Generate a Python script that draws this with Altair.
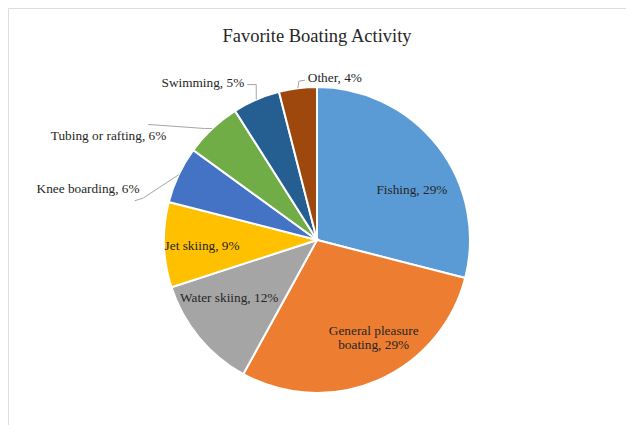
import math
import textwrap
import altair as alt
import pandas as pd

# ---------------- data ----------------
title_text = "Favorite Boating Activity"
categories = ["Fishing", "General pleasure boating", "Water skiing", "Jet skiing",
              "Knee boarding", "Tubing or rafting", "Swimming", "Other"]
values = [29, 29, 12, 9, 6, 6, 5, 4]
colors = ["#5B9BD5", "#ED7D31", "#A5A5A5", "#FFC000",
          "#4472C4", "#70AD47", "#255E91", "#9E480E"]

labels = [f"{c}, {v}%" for c, v in zip(categories, values)]
labels[1] = "\n".join(textwrap.wrap(labels[1], 16))
total = sum(values)

df = pd.DataFrame({
    "category": categories,
    "value": values,
    "order": list(range(len(categories))),
    "label": labels,
})

# ---------------- layout ----------------
W, H = 618, 417
CX, CY = 309, 232
R = 153
FONT = "Liberation Serif"
TXT = "#262626"
LINE = "#A6A6A6"

theta_scale = alt.Scale(domain=[0, total])

base = (
    alt.Chart(df)
    .transform_window(cum="sum(value)", sort=[alt.SortField("order")], frame=[None, 0])
    .transform_calculate(mid="datum.cum - datum.value / 2")
)

arc = alt.Chart(df).mark_arc(outerRadius=R, stroke="white", strokeWidth=2).encode(
    theta=alt.Theta("value:Q", stack=True, scale=theta_scale),
    color=alt.Color("category:N", scale=alt.Scale(domain=categories, range=colors), legend=None),
    order=alt.Order("order:Q"),
    x=alt.value(CX),
    y=alt.value(CY),
)


def label_layer(cat, radius, dx, dy, align="center"):
    return (
        base.transform_filter(alt.datum.category == cat)
        .mark_text(radius=radius, dx=dx, dy=dy, align=align, baseline="middle",
                   font=FONT, fontSize=13.3, color=TXT, lineBreak="\n", lineHeight=14)
        .encode(
            theta=alt.Theta("mid:Q", stack=None, scale=theta_scale),
            text="label:N",
            x=alt.value(CX),
            y=alt.value(CY),
        )
    )


def leader_layer(cat, p1, p2):
    ang = f"(2 * PI * datum.mid / {total})"
    b = (
        base.transform_filter(alt.datum.category == cat)
        .transform_calculate(
            ex=f"{CX} + {R} * sin({ang})",
            ey=f"{CY} - {R} * cos({ang})",
        )
        .transform_calculate(
            bx=f"datum.ex + {p1[0]}", by=f"datum.ey + {p1[1]}",
            cx2=f"datum.ex + {p2[0]}", cy2=f"datum.ey + {p2[1]}",
        )
    )
    r1 = b.mark_rule(color=LINE, strokeWidth=1).encode(
        x=alt.X("ex:Q", scale=None, axis=None), y=alt.Y("ey:Q", scale=None, axis=None),
        x2="bx:Q", y2="by:Q")
    r2 = b.mark_rule(color=LINE, strokeWidth=1).encode(
        x=alt.X("bx:Q", scale=None, axis=None), y=alt.Y("by:Q", scale=None, axis=None),
        x2="cx2:Q", y2="cy2:Q")
    return [r1, r2]


texts = [
    label_layer("Fishing", 110, 8, 17),
    label_layer("General pleasure boating", 115, 11, -15),
    label_layer("Water skiing", 110, -3, -12),
    label_layer("Jet skiing", 115, 0, 2),
    label_layer("Knee boarding", R, -39, 14, "right"),
    label_layer("Tubing or rafting", R, -46, 8, "right"),
    label_layer("Swimming", R, -12, -17, "right"),
    label_layer("Other", R, 10, -10, "left"),
]

leaders = (
    leader_layer("Knee boarding", (-35, 23), (-44, 26))
    + leader_layer("Tubing or rafting", (-8, 0), (-64, -4))
    + leader_layer("Swimming", (0, -15), (-9, -15))
    + leader_layer("Other", (1, -7), (7, -8))
)

chart = (
    alt.layer(arc, *leaders, *texts)
    .properties(
        width=W,
        height=H,
        title=alt.TitleParams(title_text, anchor="middle", frame="group", orient="top",
                              offset=-52, baseline="alphabetic", font=FONT, fontSize=18.5,
                              fontWeight="normal", color=TXT),
        autosize=alt.AutoSizeParams(type="none"),
        padding=0,
    )
    .configure_view(strokeWidth=0, stroke="white", fill="white")
    .configure_axis(disable=True)
    .configure(background="white")
)

chart.save("out.html", embed_options={"renderer": "svg", "actions": False})
